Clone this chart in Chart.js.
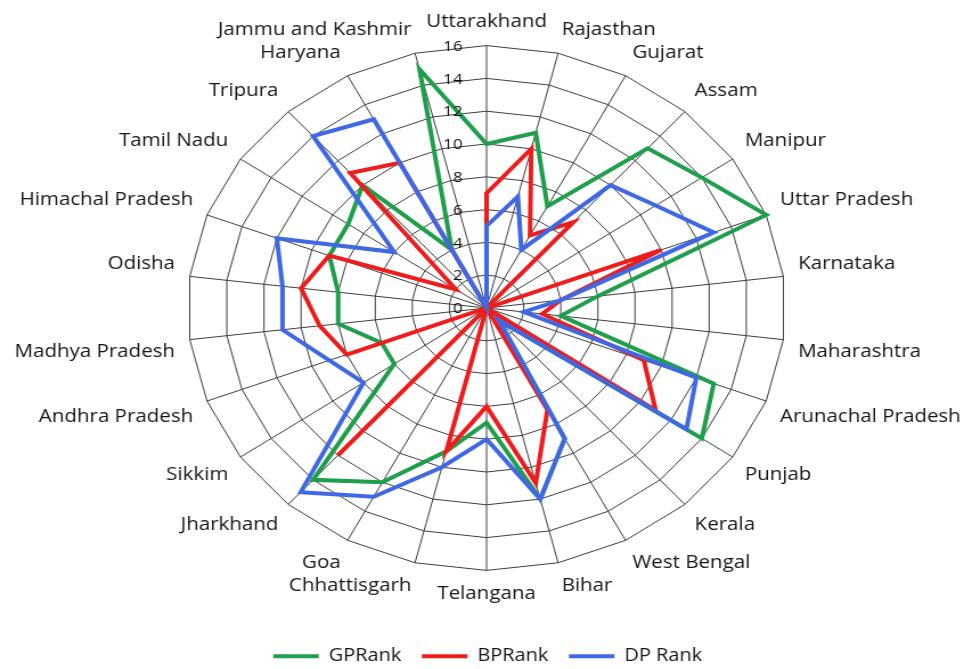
<!DOCTYPE html>
<html>
<head>
<meta charset="utf-8">
<script src="https://cdn.jsdelivr.net/npm/chart.js@4/dist/chart.umd.min.js"></script>
<style>
  html, body { margin: 0; padding: 0; background: #fff; }
  /* drawn at 846 wide and shown at 964, the reference is stretched sideways */
  #rankChart { display: block; width: 964px; height: 669px; }
</style>
</head>
<body>
<canvas id="rankChart" width="846" height="669" style="width:964px;height:669px"></canvas>
<script>
// states, clockwise from the top
var states = ['Uttarakhand', 'Rajasthan', 'Gujarat', 'Assam', 'Manipur', 'Uttar Pradesh',
    'Karnataka', 'Maharashtra', 'Arunachal Pradesh', 'Punjab', 'Kerala', 'West Bengal',
    'Bihar', 'Telangana', 'Chhattisgarh', 'Goa', 'Jharkhand', 'Sikkim', 'Andhra Pradesh',
    'Madhya Pradesh', 'Odisha', 'Himachal Pradesh', 'Tamil Nadu', 'Tripura', 'Haryana',
    'Jammu and Kashmir'];

var gpRank = [10, 11, 7, 13, 14, 16, 6, 4, 13, 14, 1, 9, 12, 7, 9, 12, 14, 6, 6, 8, 8, 9, 9, 10, 4, 15];
var bpRank = [7, 10, 5, 7, 0, 10, 4, 3, 9, 11, 0, 7, 11, 6, 9, 0, 12, 0, 8, 9, 10, 9, 2, 11, 10, 0];
var dpRank = [5, 7, 4, 10, 11, 13, 4, 2, 12, 13, 1, 9, 12, 8, 10, 13, 15, 8, 9, 11, 11, 12, 6, 14, 13, 0];

var tickValues = [0, 2, 4, 6, 8, 10, 12, 14, 16];

var gridColor = '#3c3c3c';
var textColor = '#141414';

// tick numbers sit a little left of the top spoke, like the original
var tickLabelPlugin = {
    id: 'tickLabels',
    afterDatasetsDraw: function(chart) {
        var scale = chart.scales.r;
        var ctx = chart.ctx;
        ctx.save();
        ctx.font = '15px "Open Sans"';
        ctx.fillStyle = textColor;
        ctx.textAlign = 'right';
        ctx.textBaseline = 'middle';
        tickValues.forEach(function(v) {
            var d = scale.getDistanceFromCenterForValue(v);
            ctx.fillText(String(v), scale.xCenter - 21, scale.yCenter - d + 1);
        });
        ctx.restore();
    }
};

var ctx = document.getElementById('rankChart').getContext('2d');

new Chart(ctx, {
    type: 'radar',
    data: {
        labels: states,
        datasets: [{
            label: 'GPRank',
            data: gpRank,
            borderColor: '#1f9f4c',
            backgroundColor: '#1f9f4c',
            order: 2
        }, {
            label: 'BPRank',
            data: bpRank,
            borderColor: '#f01c1c',
            backgroundColor: '#f01c1c',
            order: 1
        }, {
            label: 'DP Rank',
            data: dpRank,
            borderColor: '#3f69e4',
            backgroundColor: '#3f69e4',
            order: 0
        }]
    },
    options: {
        responsive: false,
        animation: false,
        layout: { padding: { top: 11, bottom: 0, left: 10, right: 0 } },
        elements: {
            line: { borderWidth: 4, fill: false, tension: 0, borderJoinStyle: 'miter' },
            point: { radius: 0, hoverRadius: 0, borderWidth: 4 }
        },
        scales: {
            r: {
                min: 0,
                max: 16,
                ticks: { stepSize: 2, display: false },
                grid: { color: gridColor, lineWidth: 1 },
                angleLines: { color: gridColor, lineWidth: 1 },
                pointLabels: {
                    color: textColor,
                    font: { family: 'Open Sans', size: 18 },
                    padding: 13
                }
            }
        },
        plugins: {
            legend: {
                position: 'bottom',
                maxHeight: 63,
                // empty title only pushes the keys down below the chart
                title: { display: true, text: '', padding: { top: 9, bottom: 0 } },
                labels: {
                    usePointStyle: true,
                    pointStyle: 'line',
                    pointStyleWidth: 40,
                    color: textColor,
                    font: { family: 'Open Sans', size: 17.5 },
                    padding: 18,
                    sort: function(a, b) { return a.datasetIndex - b.datasetIndex; }
                }
            },
            tooltip: { enabled: false }
        }
    },
    plugins: [tickLabelPlugin]
});
</script>
</body>
</html>
